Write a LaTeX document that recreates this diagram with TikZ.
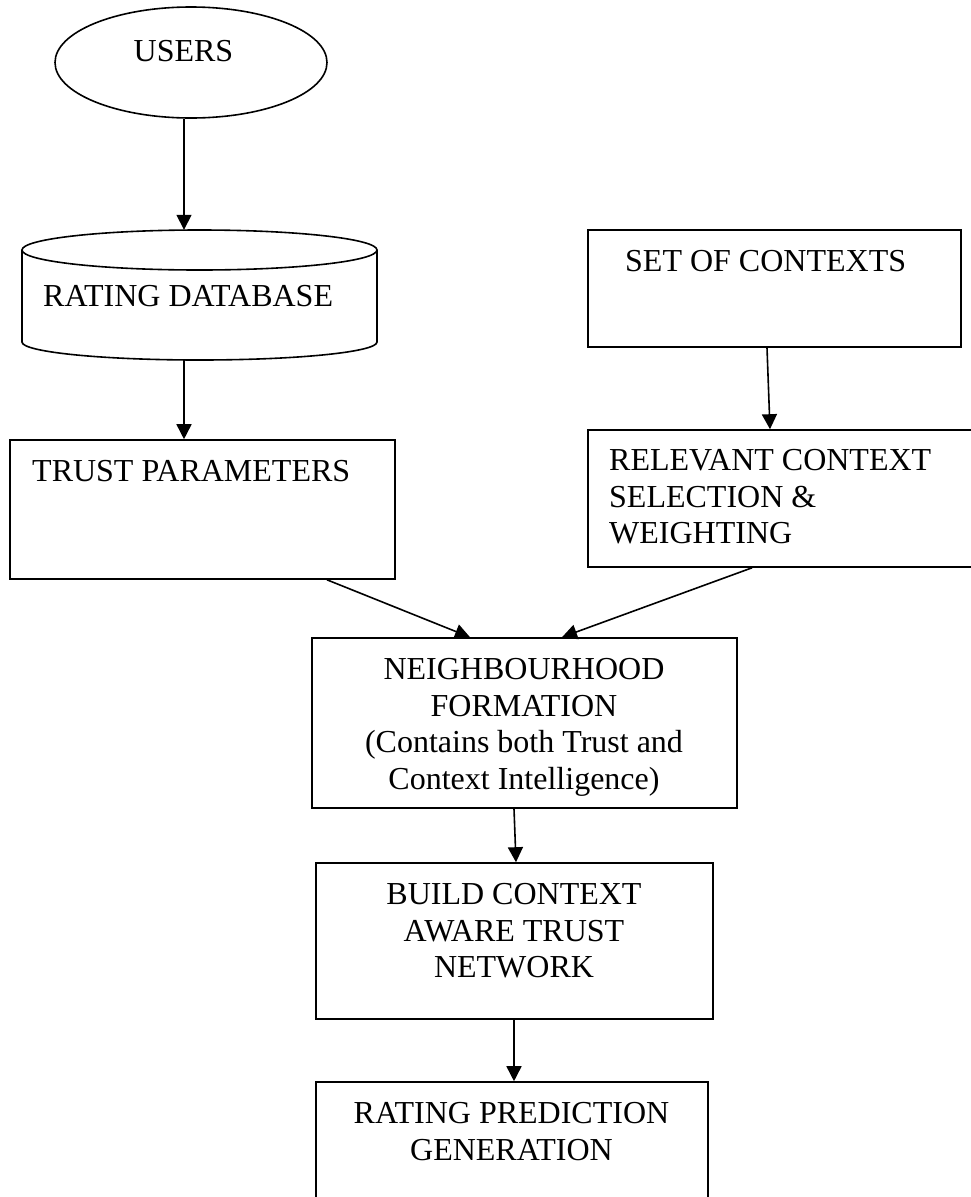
\documentclass[tikz,border=0pt]{standalone}
\usepackage{fontspec}
\setmainfont{Liberation Serif}
\usetikzlibrary{arrows.meta,shapes.geometric}

\tikzset{
  box/.style={draw, line width=1.6pt, rectangle, inner sep=0pt},
  ghost/.style={rectangle, inner sep=0pt},
  lbl/.style={inner sep=0pt, font=\fontsize{32}{36.7}\selectfont},
  arr/.style={line width=1.6pt, -{Triangle[length=15pt,width=15pt]}},
  outline/.style={line width=1.6pt}
}

\begin{document}
\begin{tikzpicture}[x=1pt,y=-1pt]
\clip (0,0) rectangle (971,1197);
\fill[white] (0,0) rectangle (971,1197);

% users
\node[draw, ellipse, line width=1.6pt, inner sep=0pt, minimum width=272pt, minimum height=111pt] (users) at (191,62.5) {};
\node[lbl, anchor=north] (tusers) at (183.5,40) {USERS};

% rating database (cylinder)
\node[ghost, minimum width=355pt, minimum height=130pt] (db) at (199.5,295) {};
\draw[outline] (22,250) -- (22,342) arc[start angle=180, end angle=0, x radius=177.5, y radius=18] -- (377,250);
\draw[outline] (199.5,250) ellipse[x radius=177.5, y radius=20];
\node[lbl, anchor=north west] (tdb) at (43,285) {RATING DATABASE};

% trust parameters
\node[box, minimum width=385pt, minimum height=139pt] (trust) at (202.5,509.5) {};
\node[lbl, anchor=north west] (ttrust) at (32,460) {TRUST PARAMETERS};

% set of contexts
\node[box, minimum width=373pt, minimum height=117pt] (sets) at (774.5,288.5) {};
\node[lbl, anchor=north west] (tsets) at (625,250) {SET OF CONTEXTS};

% relevant context selection
\node[box, minimum width=397pt, minimum height=137pt] (rel) at (786.5,498.5) {};
\node[lbl, anchor=north west, align=left] (trel) at (609,449) {RELEVANT CONTEXT\\SELECTION \&\\WEIGHTING};

% neighbourhood formation
\node[box, minimum width=425pt, minimum height=170pt] (neigh) at (524.5,723) {};
\node[lbl, anchor=north, align=center] (tneigh) at (524,658) {NEIGHBOURHOOD\\FORMATION\\(Contains both Trust and\\Context Intelligence)};

% build network
\node[box, minimum width=397pt, minimum height=156pt] (build) at (514.5,941) {};
\node[lbl, anchor=north, align=center] (tbuild) at (514,883) {BUILD CONTEXT\\AWARE TRUST\\NETWORK};

% rating prediction
\node[box, minimum width=392pt, minimum height=138pt] (rating) at (512,1151) {};
\node[lbl, anchor=north, align=center] (trating) at (511.5,1102) {RATING PREDICTION\\GENERATION};

% connectors
\draw[arr] ([xshift=-7pt]users.south) -- ([xshift=-15.5pt]db.north);
\draw[arr] ([xshift=-15.5pt]db.south) -- ([xshift=-18.5pt]trust.north);
\draw[arr] ([xshift=-7.5pt]sets.south) -- ([xshift=-16.5pt]rel.north);
\draw[arr] ([xshift=124.5pt]trust.south) -- ([xshift=-54.5pt]neigh.north);
\draw[arr] ([xshift=-34.5pt]rel.south) -- ([xshift=37.5pt]neigh.north);
\draw[arr] ([xshift=-10.5pt]neigh.south) -- ([xshift=1.5pt]build.north);
\draw[arr] ([xshift=-0.5pt]build.south) -- ([xshift=2pt]rating.north);
\end{tikzpicture}
\end{document}
